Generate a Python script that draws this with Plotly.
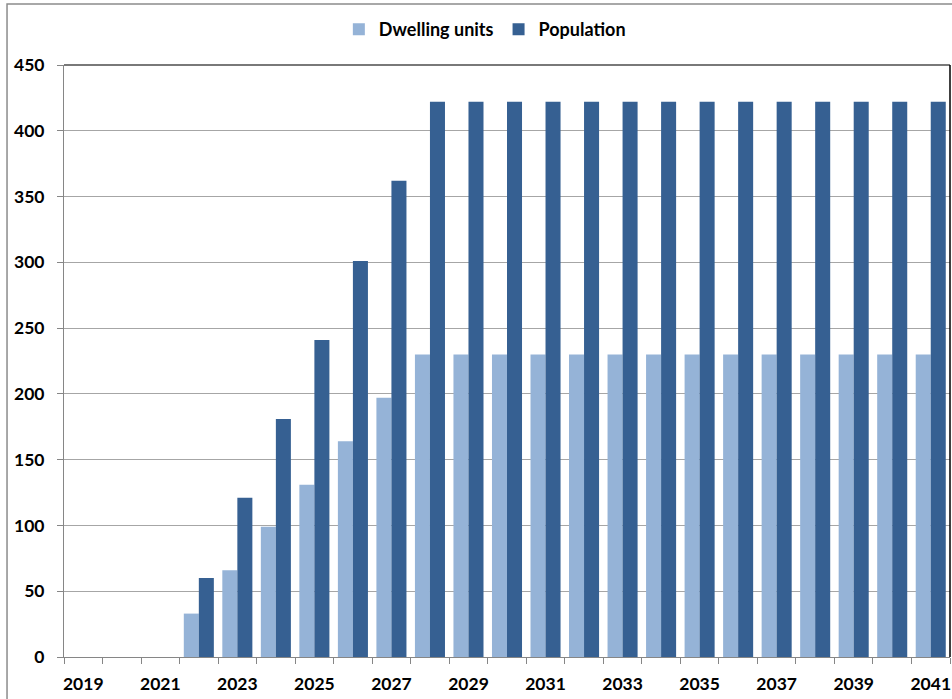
import plotly.graph_objects as go

years = list(range(2019, 2042))
dwelling_units = [0, 0, 0, 33, 66, 99, 131, 164, 197] + [230] * 14
population = [0, 0, 0, 60, 121, 181, 241, 301, 362] + [422] * 14
x_labels = [y for y in years if y % 2 == 1]
y_ticks = list(range(0, 451, 50))

FONT = "Lato"
fig = go.Figure()
fig.add_trace(go.Bar(x=years, y=dwelling_units, name="<b>Dwelling units</b>",
                     marker=dict(color="#95B3D7", line=dict(width=0))))
fig.add_trace(go.Bar(x=years, y=population, name="<b>Population</b>",
                     marker=dict(color="#366092", line=dict(width=0))))

bounds = [y - 0.5 for y in years] + [years[-1] + 0.5]

fig.update_layout(
    width=952, height=699,
    margin=dict(l=64, r=2, t=65, b=42),
    paper_bgcolor="white", plot_bgcolor="white",
    barmode="group", bargap=0.22, bargroupgap=0,
    font=dict(family=FONT, size=17, color="black"),
    showlegend=True,
    legend=dict(orientation="h", x=0.475, xanchor="center", y=1.06, yanchor="middle",
                font=dict(family=FONT, size=18, color="black"),
                itemwidth=30, traceorder="normal"),
    xaxis=dict(range=[years[0] - 0.5, years[-1] + 0.5], tickmode="array",
               tickvals=x_labels, ticktext=[f"<b>{v}</b>" for v in x_labels],
               ticks="", showgrid=False, showline=True, linecolor="#868686", linewidth=1,
               tickfont=dict(family=FONT, size=17.5, color="black"), ticklabelstandoff=11,
               minor=dict(tickmode="array", tickvals=bounds, ticks="outside", ticklen=6,
                          tickcolor="#868686", showgrid=False),
               fixedrange=True),
    yaxis=dict(range=[0, 450], tickmode="array", tickvals=y_ticks,
               ticktext=[f"<b>{v}</b>" for v in y_ticks],
               ticks="outside", ticklen=6, tickcolor="#868686",
               showgrid=True, gridcolor="#A6A6A6", gridwidth=1,
               showline=True, linecolor="#868686", linewidth=1, zeroline=False,
               tickfont=dict(family=FONT, size=17.5, color="black"), ticklabelstandoff=9),
    shapes=[
        dict(type="line", xref="paper", yref="paper", x0=0, x1=1, y0=1, y1=1,
             line=dict(color="#4D4D4D", width=1.5)),
        dict(type="line", xref="paper", yref="paper", x0=1, x1=1, y0=0, y1=1,
             line=dict(color="black", width=1.5)),
        dict(type="rect", xref="paper", yref="paper", x0=-0.0643, x1=1.2, y0=-0.2, y1=1.103,
             line=dict(color="#8C8C8C", width=1.5), layer="below"),
    ],
)
fig.write_html("out.html")
